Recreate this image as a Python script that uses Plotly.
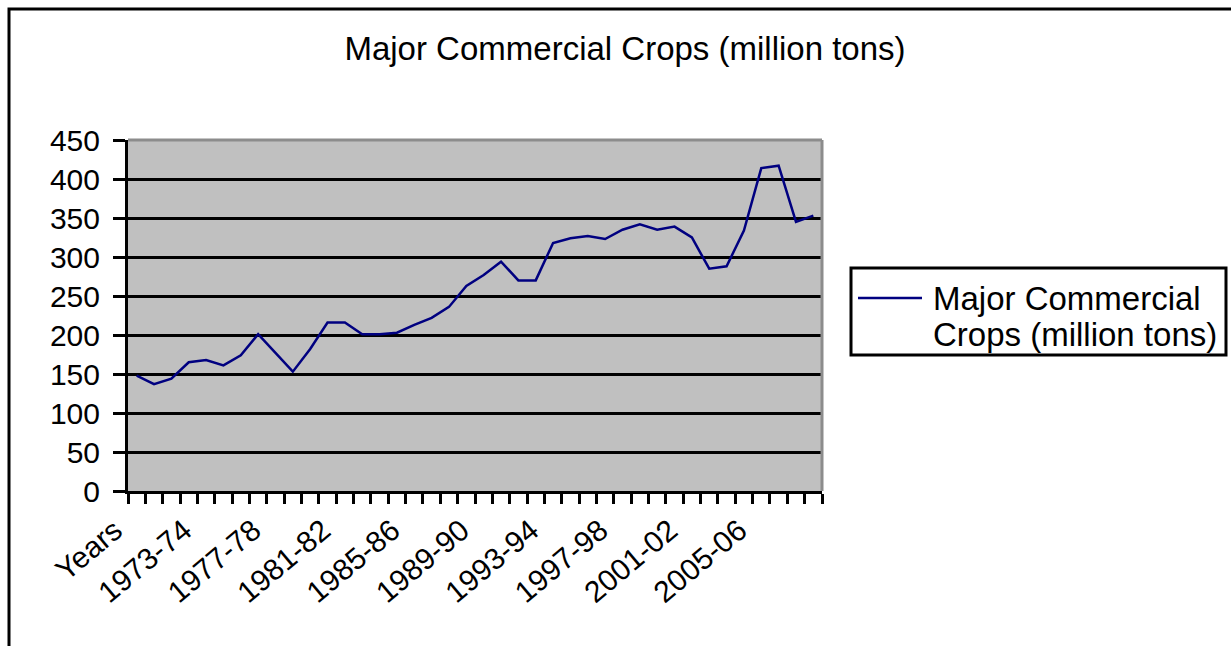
import plotly.graph_objects as go

# Season labels along the x axis (first entry is the header cell of the sheet)
seasons = [
    "Years", "1970-71", "1971-72", "1972-73", "1973-74", "1974-75", "1975-76",
    "1976-77", "1977-78", "1978-79", "1979-80", "1980-81", "1981-82", "1982-83",
    "1983-84", "1984-85", "1985-86", "1986-87", "1987-88", "1988-89", "1989-90",
    "1990-91", "1991-92", "1992-93", "1993-94", "1994-95", "1995-96", "1996-97",
    "1997-98", "1998-99", "1999-00", "2000-01", "2001-02", "2002-03", "2003-04",
    "2004-05", "2005-06", "2006-07", "2007-08", "2008-09",
]

# Production of major commercial crops, million tons
production = [
    148, 137, 144, 165, 168, 161, 174, 201, 177, 153,
    182, 216, 216, 201, 201, 203, 213, 222, 236, 263,
    277, 294, 270, 270, 318, 324, 327, 323, 335, 342,
    335, 339, 325, 285, 288, 334, 414, 417, 345, 353,
]

series_name = "Major Commercial Crops (million tons)"
legend_lines = ["Major Commercial", "Crops (million tons)"]

# Only every fourth season is labelled
tick_labels = [s if i % 4 == 0 else "" for i, s in enumerate(seasons)]

W, H = 1231, 646
L, R, T, B = 128, 409, 140, 155
PW, PH = W - L - R, H - T - B


def px_x(x):
    return (x - L) / PW


def px_y(y):
    return (H - B - y) / PH


FONT = "Liberation Sans, Arial, sans-serif"
LINE_COLOR = "#000080"

fig = go.Figure()
fig.add_trace(go.Scatter(
    x=seasons, y=production, mode="lines", name=series_name,
    line=dict(color=LINE_COLOR, width=2.5), showlegend=False,
))

shapes = [
    # outer chart frame
    dict(type="rect", xref="paper", yref="paper",
         x0=px_x(9), x1=px_x(1245), y0=px_y(665), y1=px_y(9),
         line=dict(color="black", width=3), layer="below"),
    # grey plot-area border on top and right
    dict(type="line", xref="paper", yref="paper", x0=0, x1=1, y0=1, y1=1,
         line=dict(color="#8c8c8c", width=3), layer="above"),
    dict(type="line", xref="paper", yref="paper", x0=1, x1=1, y0=0, y1=1,
         line=dict(color="#8c8c8c", width=3), layer="above"),
    # legend box and sample line
    dict(type="rect", xref="paper", yref="paper",
         x0=px_x(851), x1=px_x(1226), y0=px_y(355), y1=px_y(268),
         line=dict(color="black", width=3), fillcolor="white"),
    dict(type="line", xref="paper", yref="paper",
         x0=px_x(858), x1=px_x(922), y0=px_y(298), y1=px_y(298),
         line=dict(color=LINE_COLOR, width=2.5)),
]

annotations = [
    dict(text=line, xref="paper", yref="paper",
         x=px_x(931), y=px_y(298 + 36 * k), xanchor="left", yanchor="middle",
         align="left", showarrow=False,
         font=dict(family=FONT, size=33, color="black"))
    for k, line in enumerate(legend_lines)
]

fig.update_layout(
    width=W, height=H,
    margin=dict(l=L, r=R, t=T, b=B),
    paper_bgcolor="white",
    plot_bgcolor="#c0c0c0",
    title=dict(text=series_name, xref="paper", x=px_x(625), xanchor="center",
               yref="container", y=1 - 48 / H, yanchor="middle",
               font=dict(family=FONT, size=33, color="black")),
    shapes=shapes,
    annotations=annotations,
    showlegend=False,
    xaxis=dict(
        type="category", range=[-0.5, len(seasons) - 0.5],
        tickmode="array", tickvals=seasons, ticktext=tick_labels,
        tickson="boundaries", ticks="outside", ticklen=10, tickwidth=3,
        tickcolor="black", tickangle=-40, showgrid=False,
        ticklabelshift=-22, ticklabelstandoff=7,
        showline=True, linecolor="black", linewidth=3,
        tickfont=dict(family=FONT, size=30, color="black"),
    ),
    yaxis=dict(
        range=[0, 450], tickmode="linear", tick0=0, dtick=50,
        showgrid=True, gridcolor="black", gridwidth=3, zeroline=False,
        showline=True, linecolor="black", linewidth=3,
        ticks="outside", ticklen=12, tickwidth=3, tickcolor="black",
        ticklabelstandoff=7,
        tickfont=dict(family=FONT, size=30, color="black"),
    ),
)

fig.write_html("out.html")
